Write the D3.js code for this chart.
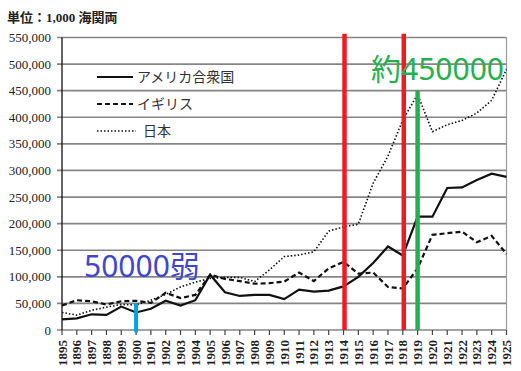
<!doctype html>
<html>
  <head>
    <meta charset="utf-8">
    <script src="https://cdn.jsdelivr.net/npm/d3@7"></script>
  <style>
    body { margin: 0; background: #fff; }
    svg { display: block; }
    .ytick { font-family: "Liberation Serif", "DejaVu Serif", serif; font-size: 13px; fill: #222; }
    .xtick { font-family: "Liberation Serif", "DejaVu Serif", serif; font-size: 13px; fill: #222; font-weight: bold; }
    .legend { font-family: "Noto Sans CJK JP", sans-serif; font-size: 14px; fill: #333; }
  </style>
  </head>
  <body>

    <svg width="521" height="371"></svg>

  <script>

    // years on the x axis
    let years = [1895, 1896, 1897, 1898, 1899, 1900, 1901, 1902, 1903, 1904,
                 1905, 1906, 1907, 1908, 1909, 1910, 1911, 1912, 1913, 1914,
                 1915, 1916, 1917, 1918, 1919, 1920, 1921, 1922, 1923, 1924, 1925]

    // 単位：1,000 海関両
    let usa   = [20000, 22000, 29500, 28500, 44000, 33000, 40000, 55000, 46000, 56000,
                 104000, 71000, 64000, 66000, 66000, 58000, 76000, 72000, 74000, 82000,
                 100000, 126000, 157000, 140000, 213000, 213000, 267000, 268000, 282000, 294000, 288000]
    let uk    = [46000, 56000, 54000, 48000, 54000, 55000, 51000, 70000, 60000, 66000,
                 104000, 96000, 92000, 87000, 88000, 91000, 108000, 92000, 116000, 128000,
                 106000, 108000, 81000, 78000, 116000, 179000, 182000, 185000, 165000, 177000, 143000]
    let japan = [33000, 28000, 37000, 43000, 48000, 47000, 56000, 67000, 81000, 90000,
                 97000, 99000, 99000, 91000, 113000, 138000, 141000, 147000, 186000, 194000,
                 199000, 276000, 327000, 395000, 443000, 373000, 386000, 394000, 408000, 432000, 490000]

    let yTicks = [0, 50000, 100000, 150000, 200000, 250000, 300000, 350000, 400000, 450000, 500000, 550000]

    let seriesNames = ["アメリカ合衆国", "イギリス", "日本"]
    let seriesDash  = [null, "5,3", "1.5,2"]
    let seriesWidth = [2.2, 2.2, 1.6]

    let svg = d3.select("svg")

    let x = d3.scaleLinear().domain([1895, 1925]).range([62, 506.5])
    let y = d3.scaleLinear().domain([0, 550000]).range([330, 37.5])

    // title
    svg.append("text")
        .attr("x", 7).attr("y", 22)
        .attr("font-family", "'Liberation Serif', 'Noto Sans CJK JP', serif")
        .attr("font-size", 13)
        .attr("font-weight", "bold")
        .attr("fill", "#222")
        .text("単位：1,000 海関両")

    // horizontal grid + y labels
    let grid = svg.append("g")
    grid.selectAll("line")
      .data(yTicks)
      .enter().append("line")
        .attr("x1", 57).attr("x2", x(1925))
        .attr("y1", d => y(d)).attr("y2", d => y(d))
        .attr("stroke", "#858585")
        .attr("stroke-width", 1.7)

    grid.selectAll("text")
      .data(yTicks)
      .enter().append("text")
        .attr("class", "ytick")
        .attr("x", 51)
        .attr("y", d => y(d))
        .attr("dy", "0.35em")
        .attr("text-anchor", "end")
        .text(d => d3.format(",")(d))

    // right border
    svg.append("line")
        .attr("x1", x(1925)).attr("x2", x(1925))
        .attr("y1", y(550000)).attr("y2", y(0))
        .attr("stroke", "#999").attr("stroke-width", 1.2)

    // left axis
    svg.append("line")
        .attr("x1", x(1895)).attr("x2", x(1895))
        .attr("y1", y(550000)).attr("y2", y(0))
        .attr("stroke", "#111").attr("stroke-width", 1.3)

    // x ticks and rotated labels
    let xg = svg.append("g")
    xg.selectAll("line")
      .data(years)
      .enter().append("line")
        .attr("x1", d => x(d)).attr("x2", d => x(d))
        .attr("y1", y(0)).attr("y2", y(0) + 5)
        .attr("stroke", "#444").attr("stroke-width", 1.2)

    xg.selectAll("text")
      .data(years)
      .enter().append("text")
        .attr("class", "xtick")
        .attr("transform", d => "translate(" + x(d) + "," + 340 + ") rotate(-90)")
        .attr("dy", "0.35em")
        .attr("text-anchor", "end")
        .text(d => d)

    // series lines
    let line = d3.line()
        .x((d, i) => x(years[i]))
        .y(d => y(d))

    let allSeries = [usa, uk, japan]
    svg.append("g")
      .selectAll("path")
      .data(allSeries)
      .enter().append("path")
        .attr("d", d => line(d))
        .attr("fill", "none")
        .attr("stroke", "#111")
        .attr("stroke-width", (d, i) => seriesWidth[i])
        .attr("stroke-dasharray", (d, i) => seriesDash[i])

    // legend
    let legendY = [77, 104, 131]
    let leg = svg.append("g")
    leg.selectAll("line")
      .data(seriesNames)
      .enter().append("line")
        .attr("x1", 97).attr("x2", (d, i) => i == 2 ? 136 : 133)
        .attr("y1", (d, i) => legendY[i]).attr("y2", (d, i) => legendY[i])
        .attr("stroke", "#111")
        .attr("stroke-width", (d, i) => seriesWidth[i])
        .attr("stroke-dasharray", (d, i) => seriesDash[i])
    leg.selectAll("text")
      .data(seriesNames)
      .enter().append("text")
        .attr("class", "legend")
        .attr("x", (d, i) => i == 2 ? 143 : 137)
        .attr("y", (d, i) => legendY[i])
        .attr("dy", "0.35em")
        .text(d => d)

    // hand-drawn annotations
    let ann = svg.append("g")
    ann.append("line")
        .attr("x1", x(1914) + 1).attr("x2", x(1914) + 1)
        .attr("y1", y(557000)).attr("y2", y(0))
        .attr("stroke", "#ed1c24").attr("stroke-width", 4.5)
    ann.append("line")
        .attr("x1", x(1918) + 1).attr("x2", x(1918) + 1)
        .attr("y1", y(557000)).attr("y2", y(0))
        .attr("stroke", "#ed1c24").attr("stroke-width", 4.5)
    ann.append("line")
        .attr("x1", x(1919)).attr("x2", x(1919))
        .attr("y1", y(450000)).attr("y2", y(0))
        .attr("stroke", "#22b14c").attr("stroke-width", 4.5)
    ann.append("line")
        .attr("x1", x(1900)).attr("x2", x(1900))
        .attr("y1", y(47000)).attr("y2", y(0) + 1)
        .attr("stroke", "#00a2e8").attr("stroke-width", 4)
        .attr("stroke-linecap", "round")

    ann.append("text")
        .attr("x", 84).attr("y", 277)
        .attr("font-family", "'Noto Sans', 'Noto Sans CJK JP', sans-serif")
        .attr("font-size", 30)
        .attr("fill", "#3f48cc")
        .text("50000弱")
    ann.append("text")
        .attr("x", 371).attr("y", 80)
        .attr("font-family", "'Noto Sans', 'Noto Sans CJK JP', sans-serif")
        .attr("font-size", 30)
        .attr("fill", "#22b14c")
        .text("約450000")

  </script>
  </body>
</html>
